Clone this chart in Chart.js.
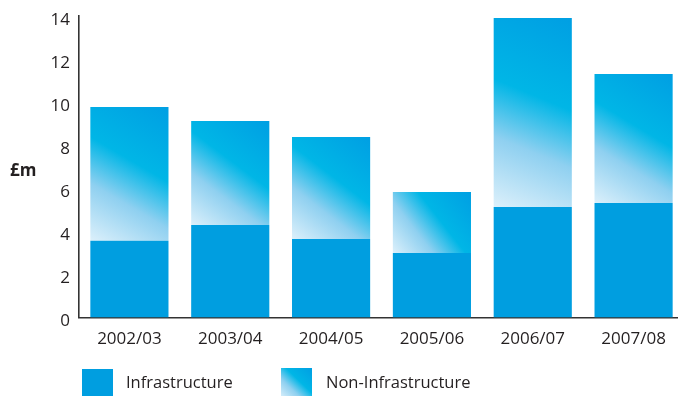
<!DOCTYPE html>
<html>
<head>
<meta charset="utf-8">
<script src="https://cdn.jsdelivr.net/npm/chart.js@4/dist/chart.umd.min.js"></script>
<style>
  html, body { margin: 0; padding: 0; width: 678px; height: 396px; overflow: hidden; background: #fff; }
  #wrap { position: relative; width: 678px; height: 396px; overflow: hidden; }
  canvas { position: absolute; left: 0; top: 0; }
  .lbl { position: absolute; font-family: "Open Sans", sans-serif; color: #231f20; white-space: nowrap; }
  .box { position: absolute; }
</style>
</head>
<body>
<div id="wrap">
  <canvas id="c" width="686" height="396"></canvas>
  <div class="lbl" style="left:10px; top:158px; font-size:17px; font-weight:bold; line-height:24px;">£m</div>
  <div class="box" style="left:82px; top:369px; width:31px; height:30px; background:#009ee0;"></div>
  <div class="lbl" style="left:126px; top:370px; font-size:16.5px; line-height:24px;">Infrastructure</div>
  <div class="box" style="left:281px; top:368px; width:31px; height:30px; background:linear-gradient(to top right, #dcf0fb 0%, #8fd0f0 32%, #00b6e6 58%, #009fe3 100%);"></div>
  <div class="lbl" style="left:326px; top:370px; font-size:16.5px; line-height:24px;">Non-Infrastructure</div>
</div>
<script>
const categories = ["2002/03", "2003/04", "2004/05", "2005/06", "2006/07", "2007/08"];
const infrastructure = [3.56, 4.29, 3.64, 2.99, 5.13, 5.31];
const nonInfrastructure = [6.21, 4.83, 4.74, 2.83, 8.77, 5.99];
const yTicks = [0, 2, 4, 6, 8, 10, 12, 14];

const BAR_PCT = 0.775;

function nonInfraGradient(ctx) {
  const chart = ctx.chart;
  const scales = chart.scales;
  if (!chart.chartArea || ctx.type !== 'data' || !scales.x || !scales.y) return '#5cc3ec';
  const i = ctx.dataIndex;
  const catW = scales.x.width / categories.length;
  const xc = scales.x.getPixelForValue(i);
  const x0 = xc - catW * BAR_PCT / 2;
  const x1 = xc + catW * BAR_PCT / 2;
  const yBot = scales.y.getPixelForValue(infrastructure[i]);
  const yTop = scales.y.getPixelForValue(infrastructure[i] + nonInfrastructure[i]);
  const g = chart.ctx.createLinearGradient(x0, yBot, x1, yTop);
  g.addColorStop(0, '#dcf0fb');
  g.addColorStop(0.32, '#8fd0f0');
  g.addColorStop(0.58, '#00b6e6');
  g.addColorStop(1, '#009fe3');
  return g;
}

new Chart(document.getElementById('c'), {
  type: 'bar',
  data: {
    labels: categories,
    datasets: [
      { label: 'Infrastructure', data: infrastructure, backgroundColor: '#009ee0', borderWidth: 0,
        barPercentage: BAR_PCT, categoryPercentage: 1 },
      { label: 'Non-Infrastructure', data: nonInfrastructure, backgroundColor: nonInfraGradient, borderWidth: 0,
        barPercentage: BAR_PCT, categoryPercentage: 1 }
    ]
  },
  options: {
    responsive: false,
    animation: false,
    devicePixelRatio: 1,
    layout: { padding: { top: 15.8, bottom: 38.5, left: 0, right: 2 } },
    plugins: { legend: { display: false }, tooltip: { enabled: false } },
    scales: {
      x: {
        stacked: true,
        grid: { display: false, drawTicks: false },
        border: { display: true, color: '#333333', width: 1.6 },
        ticks: { color: '#231f20', font: { family: 'Open Sans', size: 17 }, padding: 11, autoSkip: false, maxRotation: 0 },
        afterFit: (s) => { s.height = 40; s.paddingLeft = 0; s.paddingRight = 0; }
      },
      y: {
        stacked: true,
        min: 0, max: 14,
        afterBuildTicks: (s) => { s.ticks = yTicks.map(v => ({ value: v })); },
        grid: { display: false, drawTicks: false },
        border: { display: true, color: '#333333', width: 1.6 },
        ticks: { color: '#231f20', font: { family: 'Open Sans', size: 17 }, padding: 9, labelOffset: 4 },
        afterFit: (s) => { s.width = 79; s.paddingTop = 0; s.paddingBottom = 0; }
      }
    }
  }
});
</script>
</body>
</html>
